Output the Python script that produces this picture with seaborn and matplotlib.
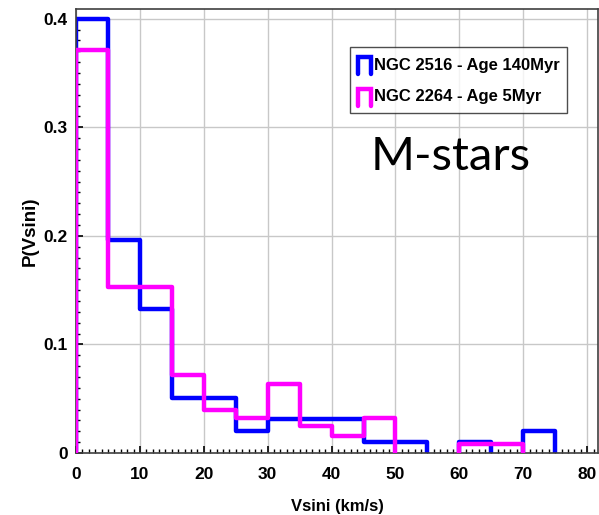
import numpy as np
import pandas as pd
import matplotlib
matplotlib.use("Agg")
import matplotlib.pyplot as plt
import seaborn as sns
from matplotlib.lines import Line2D
from matplotlib.legend_handler import HandlerBase
from matplotlib.ticker import MultipleLocator

# ---- data ----
bin_edges = [0, 5, 10, 15, 20, 25, 30, 35, 40, 45, 50, 55, 60, 65, 70, 75, 80]
ngc2516 = [0.400, 0.196, 0.133, 0.051, 0.051, 0.020, 0.031, 0.031, 0.031,
           0.010, 0.010, 0.0, 0.010, 0.0, 0.020, 0.0]
ngc2264 = [0.371, 0.153, 0.153, 0.072, 0.040, 0.032, 0.064, 0.025, 0.016,
           0.032, 0.0, 0.0, 0.008, 0.008, 0.0, 0.0]
labels = ["NGC 2516 - Age 140Myr", "NGC 2264 - Age 5Myr"]
colors = ["#0000FF", "#FF00FF"]

centers = [(a + b) / 2 for a, b in zip(bin_edges[:-1], bin_edges[1:])]
df = pd.DataFrame({
    "vsini": centers * 2,
    "p": ngc2516 + ngc2264,
    "cluster": [labels[0]] * len(centers) + [labels[1]] * len(centers),
})

sns.set_style("white")
plt.rcParams["font.family"] = ["Liberation Sans", "DejaVu Sans"]
plt.rcParams["text.color"] = "black"
plt.rcParams["axes.labelcolor"] = "black"
plt.rcParams["xtick.color"] = "black"
plt.rcParams["ytick.color"] = "black"

fig = plt.figure(figsize=(5.99, 5.15), dpi=100)
ax = fig.add_axes([76 / 599, 62 / 515, (598 - 76) / 599, (453 - 9) / 515])


def runs(values):
    """contiguous runs of non-empty bins (index ranges)"""
    out, start = [], None
    for i, v in enumerate(list(values) + [0]):
        if v > 0 and start is None:
            start = i
        elif v <= 0 and start is not None:
            out.append((start, i))
            start = None
    return out


EPS = 1e-6
for k, (lab, col) in enumerate(zip(labels, colors)):
    sub = df[df["cluster"] == lab].reset_index(drop=True)
    for i0, i1 in runs(sub["p"]):
        edges = bin_edges[i0:i1 + 1]
        # tiny empty bins on both sides so the outline drops to zero
        edges = [edges[0] - EPS] + edges + [edges[-1] + EPS]
        sns.histplot(data=sub.iloc[i0:i1], x="vsini", weights="p",
                     bins=edges, element="step", fill=False,
                     color=col, linewidth=3.2, ax=ax, zorder=2 + k)

ax.set_xlim(0, 81.7)
ax.set_ylim(0, 0.409)
ax.xaxis.set_major_locator(MultipleLocator(10))
ax.xaxis.set_minor_locator(MultipleLocator(1))
ax.yaxis.set_minor_locator(MultipleLocator(0.01))
ax.set_yticks([0, 0.1, 0.2, 0.3, 0.4])
ax.set_yticklabels(["0", "0.1", "0.2", "0.3", "0.4"])
ax.tick_params(which="both", direction="in", bottom=True, left=True,
               top=False, right=False, labelsize=12.5, color="black")
ax.tick_params(which="major", length=5, width=1.2)
ax.tick_params(which="minor", length=3, width=1)
ax.tick_params(axis="x", which="major", pad=10)
ax.tick_params(axis="y", which="major", pad=6)
for t in ax.get_xticklabels() + ax.get_yticklabels():
    t.set_fontweight("bold")

ax.grid(True, which="major", color="#c8c8c8", linewidth=1)
ax.set_axisbelow(True)
for s in ax.spines.values():
    s.set_color("#404040")
    s.set_linewidth(1.2)

ax.set_xlabel("Vsini (km/s)", fontsize=12, fontweight="bold", labelpad=12)
ax.set_ylabel("P(Vsini)", fontsize=13.5, fontweight="bold", labelpad=3)


class PiHandler(HandlerBase):
    def create_artists(self, legend, orig_handle, xdescent, ydescent,
                       width, height, fontsize, trans):
        x0, x1 = -xdescent, -xdescent + width
        y0, y1 = -ydescent, -ydescent + height * 0.85
        ln = Line2D([x0, x0, x1, x1], [y0, y1, y1, y0],
                    color=orig_handle.get_color(), linewidth=3.2,
                    solid_joinstyle="miter", transform=trans)
        return [ln]


handles = [Line2D([], [], color=c) for c in colors]
leg = ax.legend(handles, labels, loc="upper left",
                bbox_to_anchor=(350 / 599, 1 - 47 / 515),
                bbox_transform=fig.transFigure, borderaxespad=0,
                frameon=True, fancybox=False, edgecolor="#202020",
                handlelength=0.8, handleheight=1.45, handletextpad=0.2,
                borderpad=0.45, labelspacing=0.7,
                handler_map={Line2D: PiHandler()},
                prop={"weight": "bold", "size": 12})
leg.get_frame().set_linewidth(1.0)

fig.text(451 / 599, 1 - 157 / 515, "M-stars", fontsize=34, color="black",
         family=["Lato", "DejaVu Sans"], ha="center", va="center")

fig.savefig("out.png", dpi=100)
